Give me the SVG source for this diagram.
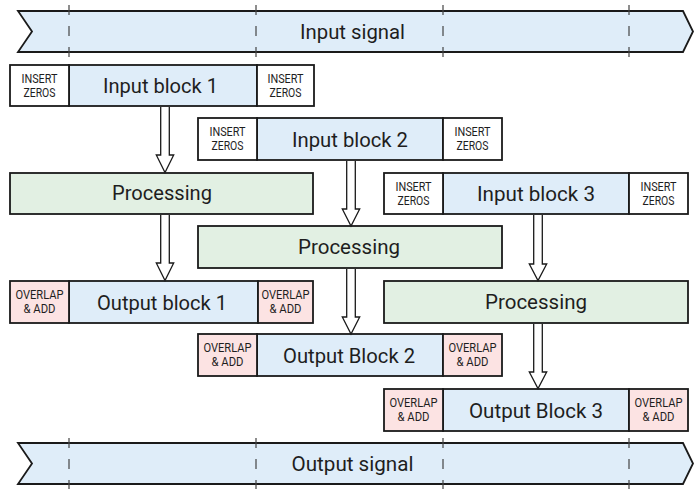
<svg xmlns="http://www.w3.org/2000/svg" width="694" height="489" viewBox="0 0 694 489">
  <defs>
    <style>
      .bg { fill: #ffffff; }
      .sig { fill: #dfedf9; stroke: #1a1a1a; stroke-width: 1.8; stroke-linejoin: miter; }
      .blk { fill: #dfedf9; stroke: #1a1a1a; stroke-width: 1.8; }
      .zero { fill: #ffffff; stroke: #1a1a1a; stroke-width: 1.8; }
      .ola { fill: #fce3e3; stroke: #1a1a1a; stroke-width: 1.8; }
      .proc { fill: #e2f0e3; stroke: #1a1a1a; stroke-width: 1.8; }
      .tick { stroke: #444; stroke-width: 1.2; stroke-dasharray: 10 11; fill: none; }
      .arrow { fill: #ffffff; stroke: #1a1a1a; stroke-width: 1.3; stroke-linejoin: miter; }
      .big { font-family: Roboto, "Liberation Sans", sans-serif; font-size: 21px; fill: #1e1e1e; text-anchor: middle; }
      .small { font-family: Roboto, "Liberation Sans", sans-serif; font-size: 13px; fill: #1e1e1e; text-anchor: middle; }
    </style>
  </defs>

  <rect class="bg" x="0" y="0" width="694" height="489"/>

  <!-- Input signal band -->
  <g id="input-signal">
    <polygon class="sig" points="18,11 683,11 693,31.5 683,52 18,52 32,31.5"/>
    <text class="big" x="352.5" y="38.5" textLength="105" lengthAdjust="spacingAndGlyphs">Input signal</text>
  </g>

  <!-- Output signal band -->
  <g id="output-signal">
    <polygon class="sig" points="18,443 683,443 693,463.5 683,484 18,484 32,463.5"/>
    <text class="big" x="352.5" y="470.5" textLength="122" lengthAdjust="spacingAndGlyphs">Output signal</text>
  </g>

  <!-- Block boundary markers -->
  <g id="boundaries">
    <line class="tick" x1="69" y1="5" x2="69" y2="58"/>
    <line class="tick" x1="256" y1="5" x2="256" y2="58"/>
    <line class="tick" x1="443" y1="5" x2="443" y2="58"/>
    <line class="tick" x1="629" y1="5" x2="629" y2="58"/>
    <line class="tick" x1="69" y1="438" x2="69" y2="489"/>
    <line class="tick" x1="256" y1="438" x2="256" y2="489"/>
    <line class="tick" x1="443" y1="438" x2="443" y2="489"/>
    <line class="tick" x1="629" y1="438" x2="629" y2="489"/>
  </g>

  <!-- Input block 1 -->
  <g id="input-block-1">
    <rect class="blk" x="69" y="65" width="188" height="41"/>
    <rect class="zero" x="10" y="65" width="59" height="41"/>
    <rect class="zero" x="257" y="65" width="57" height="41"/>
    <text class="big" x="160.5" y="93" textLength="115" lengthAdjust="spacingAndGlyphs">Input block 1</text>
    <text class="small" x="39.5" y="83" textLength="36" lengthAdjust="spacingAndGlyphs">INSERT</text>
    <text class="small" x="39.5" y="97" textLength="32" lengthAdjust="spacingAndGlyphs">ZEROS</text>
    <text class="small" x="285.5" y="83" textLength="36" lengthAdjust="spacingAndGlyphs">INSERT</text>
    <text class="small" x="285.5" y="97" textLength="32" lengthAdjust="spacingAndGlyphs">ZEROS</text>
  </g>

  <!-- Input block 2 -->
  <g id="input-block-2">
    <rect class="blk" x="257" y="118" width="186" height="42"/>
    <rect class="zero" x="198" y="118" width="59" height="42"/>
    <rect class="zero" x="443" y="118" width="59" height="42"/>
    <text class="big" x="350" y="146.5" textLength="116" lengthAdjust="spacingAndGlyphs">Input block 2</text>
    <text class="small" x="227.5" y="136" textLength="36" lengthAdjust="spacingAndGlyphs">INSERT</text>
    <text class="small" x="227.5" y="150" textLength="32" lengthAdjust="spacingAndGlyphs">ZEROS</text>
    <text class="small" x="472.5" y="136" textLength="36" lengthAdjust="spacingAndGlyphs">INSERT</text>
    <text class="small" x="472.5" y="150" textLength="32" lengthAdjust="spacingAndGlyphs">ZEROS</text>
  </g>

  <!-- Input block 3 -->
  <g id="input-block-3">
    <rect class="blk" x="443" y="173" width="186" height="41"/>
    <rect class="zero" x="384" y="173" width="59" height="41"/>
    <rect class="zero" x="629" y="173" width="59" height="41"/>
    <text class="big" x="536" y="201" textLength="118" lengthAdjust="spacingAndGlyphs">Input block 3</text>
    <text class="small" x="413.5" y="191" textLength="36" lengthAdjust="spacingAndGlyphs">INSERT</text>
    <text class="small" x="413.5" y="205" textLength="32" lengthAdjust="spacingAndGlyphs">ZEROS</text>
    <text class="small" x="658.5" y="191" textLength="36" lengthAdjust="spacingAndGlyphs">INSERT</text>
    <text class="small" x="658.5" y="205" textLength="32" lengthAdjust="spacingAndGlyphs">ZEROS</text>
  </g>

  <!-- Processing stages -->
  <g id="processing-1">
    <rect class="proc" x="10" y="173" width="303" height="41"/>
    <text class="big" x="162" y="200" textLength="100" lengthAdjust="spacingAndGlyphs">Processing</text>
  </g>
  <g id="processing-2">
    <rect class="proc" x="198" y="226" width="304" height="42"/>
    <text class="big" x="349" y="253.5" textLength="102" lengthAdjust="spacingAndGlyphs">Processing</text>
  </g>
  <g id="processing-3">
    <rect class="proc" x="384" y="281" width="304" height="42"/>
    <text class="big" x="536" y="308.5" textLength="102" lengthAdjust="spacingAndGlyphs">Processing</text>
  </g>

  <!-- Output block 1 -->
  <g id="output-block-1">
    <rect class="blk" x="69" y="281" width="189" height="42"/>
    <rect class="ola" x="10" y="281" width="59" height="42"/>
    <rect class="ola" x="258" y="281" width="55" height="42"/>
    <text class="big" x="162" y="309.5" textLength="130" lengthAdjust="spacingAndGlyphs">Output block 1</text>
    <text class="small" x="39.5" y="299" textLength="48" lengthAdjust="spacingAndGlyphs">OVERLAP</text>
    <text class="small" x="39.5" y="313" textLength="32" lengthAdjust="spacingAndGlyphs">&amp; ADD</text>
    <text class="small" x="285.5" y="299" textLength="48" lengthAdjust="spacingAndGlyphs">OVERLAP</text>
    <text class="small" x="285.5" y="313" textLength="32" lengthAdjust="spacingAndGlyphs">&amp; ADD</text>
  </g>

  <!-- Output block 2 -->
  <g id="output-block-2">
    <rect class="blk" x="257" y="334" width="186" height="42"/>
    <rect class="ola" x="198" y="334" width="59" height="42"/>
    <rect class="ola" x="443" y="334" width="59" height="42"/>
    <text class="big" x="349" y="362.5" textLength="132" lengthAdjust="spacingAndGlyphs">Output Block 2</text>
    <text class="small" x="227.5" y="352" textLength="48" lengthAdjust="spacingAndGlyphs">OVERLAP</text>
    <text class="small" x="227.5" y="366" textLength="32" lengthAdjust="spacingAndGlyphs">&amp; ADD</text>
    <text class="small" x="472.5" y="352" textLength="48" lengthAdjust="spacingAndGlyphs">OVERLAP</text>
    <text class="small" x="472.5" y="366" textLength="32" lengthAdjust="spacingAndGlyphs">&amp; ADD</text>
  </g>

  <!-- Output block 3 -->
  <g id="output-block-3">
    <rect class="blk" x="443" y="389" width="186" height="42"/>
    <rect class="ola" x="384" y="389" width="59" height="42"/>
    <rect class="ola" x="629" y="389" width="59" height="42"/>
    <text class="big" x="536" y="417.5" textLength="134" lengthAdjust="spacingAndGlyphs">Output Block 3</text>
    <text class="small" x="413.5" y="407" textLength="48" lengthAdjust="spacingAndGlyphs">OVERLAP</text>
    <text class="small" x="413.5" y="421" textLength="32" lengthAdjust="spacingAndGlyphs">&amp; ADD</text>
    <text class="small" x="658.5" y="407" textLength="48" lengthAdjust="spacingAndGlyphs">OVERLAP</text>
    <text class="small" x="658.5" y="421" textLength="32" lengthAdjust="spacingAndGlyphs">&amp; ADD</text>
  </g>

  <!-- Hollow block arrows between stages -->
  <g id="connectors">
    <path class="arrow" d="M160.7,106.9 V155 H156.3 L165,172.5 L173.7,155 H169.3 V106.9"/>
    <path class="arrow" d="M160.7,214.9 V263 H156.3 L165,280.5 L173.7,263 H169.3 V214.9"/>
    <path class="arrow" d="M346.7,160.9 V209 H342.3 L351,226 L359.7,209 H355.3 V160.9"/>
    <path class="arrow" d="M346.7,268.9 V317 H342.3 L351,334 L359.7,317 H355.3 V268.9"/>
    <path class="arrow" d="M533.7,214.9 V264 H529.3 L538,280.5 L546.7,264 H542.3 V214.9"/>
    <path class="arrow" d="M533.7,323.9 V372 H529.3 L538,388.5 L546.7,372 H542.3 V323.9"/>
  </g>
</svg>
